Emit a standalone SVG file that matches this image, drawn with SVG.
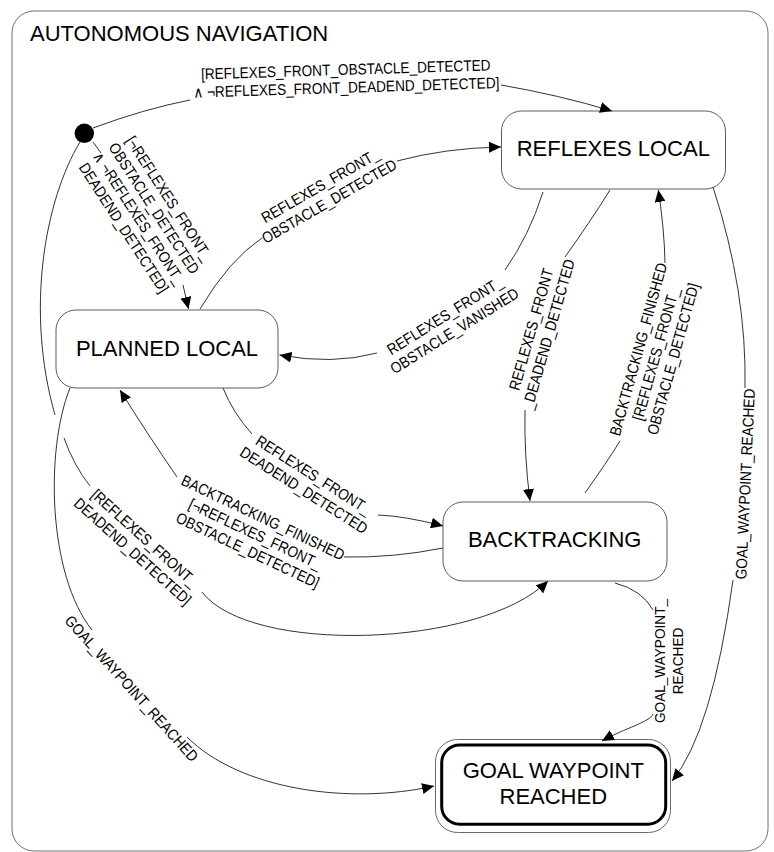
<svg xmlns="http://www.w3.org/2000/svg" width="774" height="852" viewBox="0 0 774 852">
  <defs>
    <style>
      .frame { fill: #fff; stroke: #707070; stroke-width: 1; }
      .state { fill: #fff; stroke: #5c5c5c; stroke-width: 1; }
      .final-outer { fill: #fff; stroke: #6a6a6a; stroke-width: 1; }
      .final-inner { fill: #fff; stroke: #000; stroke-width: 3; }
      .name { font-family: "Liberation Sans", Arial, sans-serif; font-size: 22px; fill: #000; text-anchor: middle; }
      .title { font-family: "Liberation Sans", Arial, sans-serif; font-size: 22px; fill: #000; }
      .edge { fill: none; stroke: #333; stroke-width: 1; }
      .arrow { marker-end: url(#head); }
      .lbl { font-family: "Liberation Sans", Arial, "DejaVu Sans", sans-serif; font-size: 15.5px; fill: #000; text-anchor: middle; }
    </style>
    <marker id="head" markerUnits="userSpaceOnUse" viewBox="0 0 12 11" refX="12" refY="5.5" markerWidth="12" markerHeight="11" orient="auto">
      <path d="M0,0 L12,5.5 L0,11 z" fill="#000"/>
    </marker>
  </defs>

  <!-- composite state frame -->
  <g id="autonomous-navigation">
    <rect class="frame" x="12" y="11" width="756" height="840" rx="22"/>
    <text class="title" x="30" y="41">AUTONOMOUS NAVIGATION</text>
  </g>

  <!-- states -->
  <g id="initial">
    <circle cx="84.3" cy="133.3" r="9.7" fill="#000"/>
  </g>
  <g id="reflexes-local">
    <rect class="state" x="501.5" y="111" width="224" height="78" rx="20"/>
    <text class="name" x="613.3" y="156">REFLEXES LOCAL</text>
  </g>
  <g id="planned-local">
    <rect class="state" x="56" y="310" width="222" height="78" rx="20"/>
    <text class="name" x="167" y="356">PLANNED LOCAL</text>
  </g>
  <g id="backtracking">
    <rect class="state" x="443" y="502" width="224" height="79" rx="20"/>
    <text class="name" x="554.7" y="547">BACKTRACKING</text>
  </g>
  <g id="goal-waypoint-reached">
    <rect class="final-outer" x="435.5" y="739.5" width="235" height="93" rx="22"/>
    <rect class="final-inner" x="441.7" y="745" width="224" height="79.3" rx="18"/>
    <text class="name" x="553.3" y="777.7">GOAL WAYPOINT</text>
    <text class="name" x="553.3" y="804">REACHED</text>
  </g>

  <!-- transitions -->
  <g id="connectors">
    <g id="init-to-reflexes">
      <path class="edge" d="M93,128 Q144,109 190,100"/>
      <path class="edge arrow" d="M501,85 Q559,95 612,111"/>
      <g transform="translate(346,78.3) rotate(-1.8) scale(0.88,1)">
        <text class="lbl"><tspan x="0" y="-3.45">[REFLEXES_FRONT_OBSTACLE_DETECTED</tspan><tspan x="0" y="14.55">∧ ¬REFLEXES_FRONT_DEADEND_DETECTED]</tspan></text>
      </g>
    </g>
    <g id="init-to-planned">
      <path class="edge" d="M93,142 L101,153"/>
      <path class="edge arrow" d="M183,285 L188.5,309"/>
      <g transform="translate(146.7,213) rotate(57) scale(0.88,1)">
        <text class="lbl"><tspan x="0" y="-21.45">[¬REFLEXES_FRONT_</tspan><tspan x="0" y="-3.45">OBSTACLE_DETECTED</tspan><tspan x="0" y="14.55">∧ ¬REFLEXES_FRONT_</tspan><tspan x="0" y="32.55">DEADEND_DETECTED]</tspan></text>
      </g>
    </g>
    <g id="planned-to-reflexes">
      <path class="edge" d="M200,309 Q229,260 262,238"/>
      <path class="edge arrow" d="M397,161 Q445,148 501,147"/>
      <g transform="translate(324.6,193.3) rotate(-30) scale(0.88,1)">
        <text class="lbl"><tspan x="0" y="-3.45">REFLEXES_FRONT_</tspan><tspan x="0" y="14.55">OBSTACLE_DETECTED</tspan></text>
      </g>
    </g>
    <g id="reflexes-to-planned">
      <path class="edge" d="M543,192 Q529,236 505,270"/>
      <path class="edge arrow" d="M377,353 Q332,365 279.5,355"/>
      <g transform="translate(449.6,323) rotate(-32) scale(0.88,1)">
        <text class="lbl"><tspan x="0" y="-3.45">REFLEXES_FRONT_</tspan><tspan x="0" y="14.55">OBSTACLE_VANISHED</tspan></text>
      </g>
    </g>
    <g id="reflexes-to-backtracking">
      <path class="edge" d="M610,190 Q590,222 565,257"/>
      <path class="edge arrow" d="M525,410 Q524,455 530,501"/>
      <g transform="translate(539.6,331.7) rotate(-74) scale(0.88,1)">
        <text class="lbl"><tspan x="0" y="-3.45">REFLEXES_FRONT</tspan><tspan x="0" y="14.55">_DEADEND_DETECTED</tspan></text>
      </g>
    </g>
    <g id="backtracking-to-reflexes">
      <path class="edge" d="M585,493 Q607,462 620,441"/>
      <path class="edge arrow" d="M665,263 Q664.4,229.4 658.3,190"/>
      <g transform="translate(655.5,354) rotate(-74.5) scale(0.88,1)">
        <text class="lbl"><tspan x="0" y="-12.45">BACKTRACKING_FINISHED</tspan><tspan x="0" y="5.55">[REFLEXES_FRONT_</tspan><tspan x="0" y="23.55">OBSTACLE_DETECTED]</tspan></text>
      </g>
    </g>
    <g id="reflexes-to-goal">
      <path class="edge" d="M713,187 Q747,292 745,388"/>
      <path class="edge arrow" d="M733,580 Q712,733 672,781"/>
      <g transform="translate(745,484) rotate(-87.4) scale(0.88,1)">
        <text class="lbl" x="0" y="5.55">GOAL_WAYPOINT_REACHED</text>
      </g>
    </g>
    <g id="backtracking-to-goal">
      <path class="edge" d="M615,583 Q642,590 653,610"/>
      <path class="edge arrow" d="M653,714 C650,722 625,728 602,741"/>
      <g transform="translate(668,661) rotate(-90) scale(0.88,1)">
        <text class="lbl"><tspan x="0" y="-3.45">GOAL_WAYPOINT_</tspan><tspan x="0" y="14.55">REACHED</tspan></text>
      </g>
    </g>
    <g id="planned-to-backtracking">
      <path class="edge" d="M223,388 Q233,413 252,434"/>
      <path class="edge arrow" d="M378,515 Q405,516 443,526"/>
      <g transform="translate(308.8,482.5) rotate(32.5) scale(0.88,1)">
        <text class="lbl"><tspan x="0" y="-3.45">REFLEXES_FRONT_</tspan><tspan x="0" y="14.55">DEADEND_DETECTED</tspan></text>
      </g>
    </g>
    <g id="backtracking-to-planned">
      <path class="edge" d="M443,548 Q393,558 344,557"/>
      <path class="edge arrow" d="M177,477 Q146,432 120,390"/>
      <g transform="translate(255.4,533.75) rotate(25.3) scale(0.88,1)">
        <text class="lbl"><tspan x="0" y="-12.45">BACKTRACKING_FINISHED</tspan><tspan x="0" y="5.55">[¬REFLEXES_FRONT_</tspan><tspan x="0" y="23.55">OBSTACLE_DETECTED]</tspan></text>
      </g>
    </g>
    <g id="init-to-backtracking">
      <path class="edge" d="M80,142 C45,200 25,310 55,415"/>
      <path class="edge" d="M64,438 Q74,466 90,486"/>
      <path class="edge arrow" d="M202,592 C250,655 480,648 548,581"/>
      <g transform="translate(138.8,544.6) rotate(42) scale(0.88,1)">
        <text class="lbl"><tspan x="0" y="-3.45">[REFLEXES_FRONT_</tspan><tspan x="0" y="14.55">DEADEND_DETECTED]</tspan></text>
      </g>
    </g>
    <g id="planned-to-goal">
      <path class="edge" d="M70,388 C45,450 48,575 92,630"/>
      <path class="edge arrow" d="M187,737 C240,790 350,805 434,786"/>
      <g transform="translate(131.7,688.3) rotate(48) scale(0.88,1)">
        <text class="lbl" x="0" y="5.55">GOAL_WAYPOINT_REACHED</text>
      </g>
    </g>
  </g>
</svg>
